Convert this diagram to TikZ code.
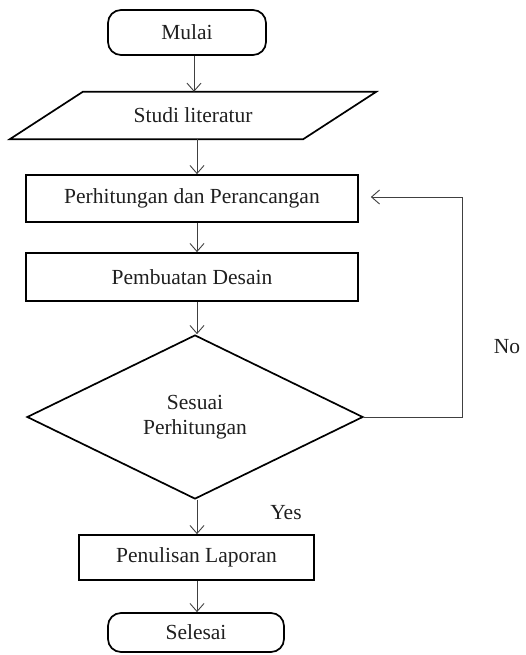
\documentclass[tikz,border=0pt]{standalone}
\usepackage{fontspec}
\setmainfont{Liberation Serif}
\usetikzlibrary{shapes.geometric,arrows.meta}
\begin{document}
\begin{tikzpicture}[x=1pt,y=-1pt,
  txt/.style={font=\fontsize{21.5}{25}\selectfont, text=black!88},
  shapeline/.style={draw=black, line width=1.7pt},
  terminal/.style={txt, shapeline, rectangle, rounded corners=13pt, inner sep=0pt},
  process/.style={txt, shapeline, rectangle, inner sep=0pt},
  decision/.style={txt, shapeline, diamond, inner sep=0pt, align=center},
  conn/.style={draw=black!75, line width=0.9pt, -{Straight Barb[length=8pt,width=14pt]}}
]
\useasboundingbox (0,0) rectangle (526,655);

\node[terminal, minimum width=158pt, minimum height=45pt] (mulai) at (187,32.5) {Mulai};
\node[txt, inner sep=0pt, minimum width=293pt, minimum height=47pt] (studi) at (193,115.5) {Studi literatur};
\draw[shapeline] ([xshift=-36.5pt]studi.south west) -- ([xshift=-36.5pt]studi.south east)
  -- ([xshift=36.5pt]studi.north east) -- ([xshift=36.5pt]studi.north west) -- cycle;
\node[process, minimum width=332pt, minimum height=47pt] (hitung) at (192,198.5) {Perhitungan dan Perancangan};
\node[process, minimum width=332pt, minimum height=48pt] (desain) at (192,277) {Pembuatan Desain};
\node[decision, minimum width=336pt, minimum height=164pt] (sesuai) at (195,417) {Sesuai\\[0pt]Perhitungan};
\node[process, minimum width=235pt, minimum height=45pt] (laporan) at (196.5,557.5) {Penulisan Laporan};
\node[terminal, minimum width=176pt, minimum height=39pt] (selesai) at (196,632.5) {Selesai};

\node[txt, inner sep=0pt] (no) at (507,347) {No};
\node[txt, inner sep=0pt] (yes) at (286,513) {Yes};

\coordinate (xa) at (194,0);
\coordinate (xb) at (197,0);
\coordinate (xr) at (462,0);

\draw[conn] (mulai.south -| xa) -- (studi.north -| xa);
\draw[conn] (studi.south -| xb) -- (hitung.north -| xb);
\draw[conn] (hitung.south -| xb) -- (desain.north -| xb);
\draw[conn] (desain.south -| xb) -- (sesuai.north -| xb);
\draw[conn] (sesuai.south -| xb) -- (laporan.north -| xb);
\draw[conn] (laporan.south -| xb) -- (selesai.north -| xb);
\draw[conn, shorten >=12pt] (sesuai.east) -- (sesuai.east -| xr) -- ([yshift=1.5pt]hitung.east -| xr) -- ([yshift=1.5pt]hitung.east);
\end{tikzpicture}
\end{document}
